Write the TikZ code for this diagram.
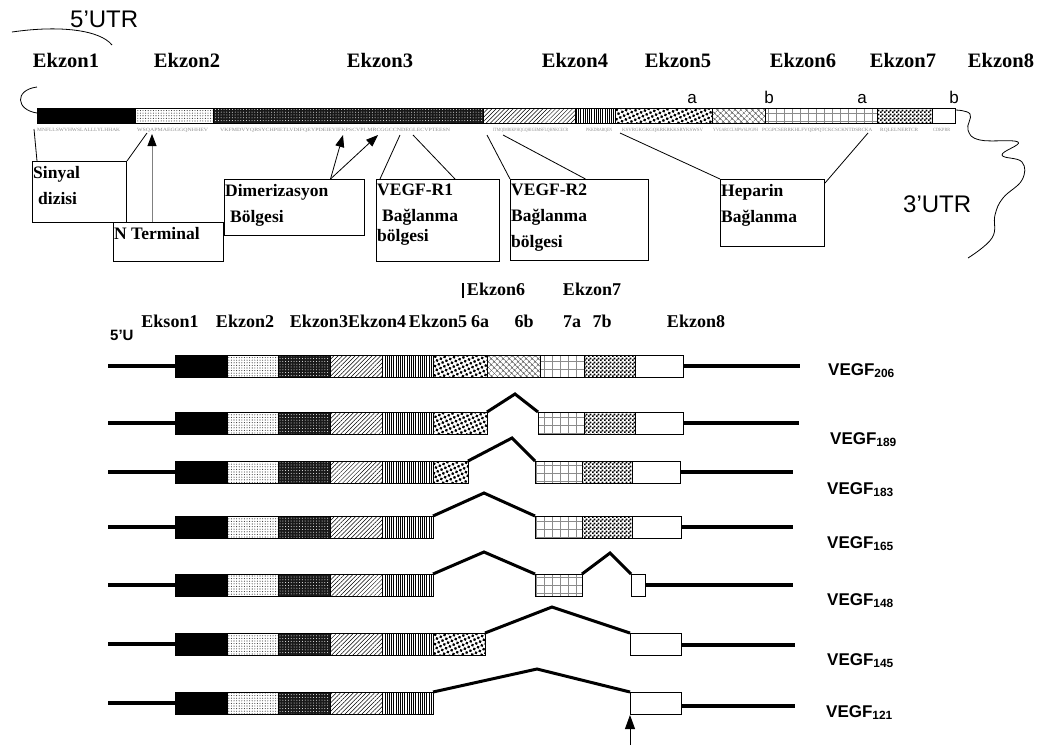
\documentclass[tikz,border=0pt]{standalone}
\usepackage{fontspec}
\setmainfont{Liberation Serif}
\setsansfont{Liberation Sans}
\usepackage{tikz}
\usetikzlibrary{arrows.meta,positioning,patterns,patterns.meta}

\newcommand{\seqtext}[2]{\resizebox{#1pt}{3.2pt}{#2}}

% small black and white squares for exon 7b
\pgfdeclarepatternformonly{finechecker}{\pgfpointorigin}{\pgfqpoint{4pt}{4pt}}{\pgfqpoint{4pt}{4pt}}{%
  \pgfpathrectangle{\pgfpointorigin}{\pgfqpoint{2pt}{2pt}}%
  \pgfpathrectangle{\pgfqpoint{2pt}{2pt}}{\pgfqpoint{2pt}{2pt}}%
  \pgfusepath{fill}}

\tikzset{
  exon/.style={draw=black, line width=0.6pt},
  ex1/.style={exon, fill=black},
  ex2/.style={exon, pattern={Dots[radius=0.55pt, distance=2.6pt]}, pattern color=black!80},
  ex3/.style={exon, preaction={fill=black!90}, pattern={Dots[radius=0.5pt, distance=2.8pt]}, pattern color=white},
  ex4/.style={exon, pattern={Lines[angle=45, distance=3pt, line width=0.5pt]}},
  ex5/.style={exon, pattern={Lines[angle=90, distance=2.2pt, line width=0.7pt]}},
  ex6a/.style={exon, pattern={Dots[radius=1.6pt, distance=4.2pt, angle=25]}},
  ex6b/.style={exon, pattern={Hatch[angle=45, distance=4pt, line width=0.6pt]}, pattern color=black!65},
  ex7a/.style={exon, pattern={Hatch[angle=0, distance=8pt, line width=0.35pt]}, pattern color=black!45},
  ex7b/.style={exon, pattern=finechecker},
  ex8/.style={exon, fill=white},
  utr/.style={line width=3.5pt},
  splice/.style={line width=3pt, line join=miter}
}

\begin{document}
\begin{tikzpicture}[x=1pt, y=-1pt,
  toplab/.style={font=\bfseries\fontsize{20.5}{24}\selectfont, anchor=base, inner sep=0pt},
  botlab/.style={font=\bfseries\fontsize{18}{21}\selectfont, anchor=base, inner sep=0pt},
  sublab/.style={font=\sffamily\fontsize{17}{20}\selectfont, anchor=base, inner sep=0pt},
  utrlab/.style={font=\sffamily\fontsize{24}{28}\selectfont, anchor=base west, inner sep=0pt},
  vegf/.style={font=\sffamily\bfseries\fontsize{17}{20}\selectfont, anchor=base west, inner sep=0pt},
  callbox/.style={draw, line width=1pt, anchor=north west, inner sep=0pt},
  calltext/.style={font=\bfseries\fontsize{17.5}{26}\selectfont, align=left, inner sep=0pt},
  seq/.style={text=black!45, anchor=base west, inner sep=0pt},
  pointer/.style={line width=0.8pt}]

  \useasboundingbox (0,0) rectangle (1055,745);

  % ---- top: the protein with its exons ----
  \node[utrlab] (utr5) at (70,27) {5'UTR};
  \draw[line width=0.8pt] (12,32) .. controls (60,25) and (100,30) .. (112,45);

  \node[toplab] (k1) at (66,67)  {Ekzon1};
  \node[toplab] (k2) at (187,67) {Ekzon2};
  \node[toplab] (k3) at (380,67) {Ekzon3};
  \node[toplab] (k4) at (575,67) {Ekzon4};
  \node[toplab] (k5) at (678,67) {Ekzon5};
  \node[toplab] (k6) at (803,67) {Ekzon6};
  \node[toplab] (k7) at (903,67) {Ekzon7};
  \node[toplab] (k8) at (1001,67) {Ekzon8};

  \node[sublab] (a6) at (692,103) {a};
  \node[sublab] (b6) at (769,103) {b};
  \node[sublab] (a7) at (862,103) {a};
  \node[sublab] (b7) at (954,103) {b};

  % the bar
  \path[ex1]  (37,108)  rectangle (135,123);
  \path[ex2]  (135,108) rectangle (213,123);
  \path[ex3]  (213,108) rectangle (483,123);
  \path[ex4]  (483,108) rectangle (575,123);
  \path[ex5]  (575,108) rectangle (615,123);
  \path[ex6a] (615,108) rectangle (712,123);
  \path[ex6b] (712,108) rectangle (765,123);
  \path[ex7a] (765,108) rectangle (877,123);
  \path[ex7b] (877,108) rectangle (932,123);
  \path[ex8]  (932,108) rectangle (955,123);
  \draw[line width=0.6pt] (37,108) rectangle (955,123);

  % loose ends of the mRNA
  \draw[line width=0.8pt] (37,87) .. controls (14,90) and (16,110) .. (37,113);
  \draw[line width=0.8pt] plot[smooth, tension=0.7] coordinates {(955,110) (970,114) (968,130) (980,140) (1018,142) (1002,155) (1022,162) (1022,180) (1003,198) (995,215) (992,238) (968,258)};
  \node[utrlab] (utr3) at (903,212) {3'UTR};

  % sequence under the bar
  \node[seq] (sq1)  at (37,131)  {\seqtext{83}{MNFLLSWVHWSLALLLYLHHAK}};
  \node[seq] (sq2)  at (137,131) {\seqtext{71}{WSQAPMAEGGGQNHHEV}};
  \node[seq] (sq3)  at (220,131) {\seqtext{230}{VKFMDVYQRSYCHPIETLVDIFQEYPDEIEYIFKPSCVPLMRCGGCCNDEGLECVPTEESN}};
  \node[seq] (sq4)  at (493,131) {\seqtext{75}{ITMQIMRIKPHQGQHIGEMSFLQHNKCECR}};
  \node[seq] (sq5)  at (586,131) {\seqtext{26}{PKKDRARQEN}};
  \node[seq] (sq6a) at (622,131) {\seqtext{81}{KSVRGKGKGQKRKRKKSRYKSWSV}};
  \node[seq] (sq6b) at (713,131) {\seqtext{45}{YVGARCCLMPWSLPGPH}};
  \node[seq] (sq7a) at (762,131) {\seqtext{110}{PCGPCSERRKHLFVQDPQTCKCSCKNTDSRCKA}};
  \node[seq] (sq7b) at (880,131) {\seqtext{38}{RQLELNERTCR}};
  \node[seq] (sq8)  at (933,131) {\seqtext{17}{CDKPRR}};

  % callout boxes
  \node[callbox, minimum width=94,  minimum height=61] (sinyal) at (32,161) {};
  \node[calltext, below right=5pt and 1pt of sinyal.north west] (sinyaltxt) {Sinyal\\\hspace*{5pt}dizisi};
  \node[callbox, minimum width=110, minimum height=39] (nterm) at (113,222) {};
  \node[calltext, below right=5pt and 1pt of nterm.north west] (ntermtxt) {N Terminal};
  \node[callbox, minimum width=140, minimum height=56] (dimer) at (224,179) {};
  \node[calltext, below right=5pt and 1pt of dimer.north west] (dimertxt) {Dimerizasyon\\\hspace*{5pt}Bölgesi};
  \node[callbox, minimum width=123, minimum height=82] (vr1) at (376,179) {};
  \node[calltext, below right=5pt and 1pt of vr1.north west] (vr1txt) {VEGF-R1\\\hspace*{5pt}Bağlanma\\[-6pt]bölgesi};
  \node[callbox, minimum width=138, minimum height=81] (vr2) at (510,179) {};
  \node[calltext, below right=5pt and 1pt of vr2.north west] (vr2txt) {VEGF-R2\\Bağlanma\\bölgesi};
  \node[callbox, minimum width=104, minimum height=67] (hep) at (720,179) {};
  \node[calltext, below right=5pt and 1pt of hep.north west] (heptxt) {Heparin\\Bağlanma};

  % where the callouts point
  \coordinate (sig1) at (34,129);
  \coordinate (sig2) at (147,133);
  \coordinate (nt)   at (152,134);
  \coordinate (dm1)  at (343,135);
  \coordinate (dm2)  at (378,135);
  \coordinate (ra1)  at (400,135);
  \coordinate (ra2)  at (413,135);
  \coordinate (rb1)  at (487,135);
  \coordinate (rb2)  at (503,135);
  \coordinate (hp1)  at (620,133);
  \coordinate (hp2)  at (868,133);

  \draw[pointer] ([xshift=5pt]sinyal.north west) -- (sig1);
  \draw[pointer] (sinyal.north east) -- (sig2);
  \draw[pointer, gray, -{Triangle[width=9pt, length=12pt, black]}] (nterm.north -| nt) -- (nt);
  \draw[pointer, -{Triangle[width=9pt, length=12pt]}] ([xshift=36pt]dimer.north) -- (dm1);
  \draw[pointer, -{Triangle[width=9pt, length=12pt]}] ([xshift=36pt]dimer.north) -- (dm2);
  \draw[pointer] ([xshift=4pt]vr1.north west) -- (ra1);
  \draw[pointer] ([xshift=17pt]vr1.north) -- (ra2);
  \draw[pointer] (vr2.north west) -- (rb1);
  \draw[pointer] ([xshift=6pt]vr2.north) -- (rb2);
  \draw[pointer] (hep.north west) -- (hp1);
  \draw[pointer] ([yshift=-4pt]hep.north east) -- (hp2);

  % ---- bottom: the splice variants ----
  \draw[line width=1.5pt] (463,283) -- (463,298);
  \node[botlab] (e6) at (496,295) {Ekzon6};
  \node[botlab] (e7) at (592,295) {Ekzon7};

  \node[botlab] (s1)  at (170,327) {Ekson1};
  \node[botlab] (s2)  at (245,327) {Ekzon2};
  \node[botlab] (s34) at (348,327) {Ekzon3Ekzon4};
  \node[botlab] (s5)  at (438,327) {Ekzon5};
  \node[botlab] (s6a) at (480,327) {6a};
  \node[botlab] (s6b) at (524,327) {6b};
  \node[botlab] (s7a) at (572,327) {7a};
  \node[botlab] (s7b) at (602,327) {7b};
  \node[botlab] (s8)  at (696,327) {Ekzon8};
  \node[font=\sffamily\bfseries\fontsize{15}{18}\selectfont, anchor=base west, inner sep=0pt] (utr5b) at (110,340) {5'U};

  % exons 1 to 5, the same in every row
  \foreach \t in {355,412,461,516,574,633,692} {
    \draw[utr] (108,\t+11) -- (175,\t+11);
    \path[ex1] (175,\t) rectangle (227,\t+22);
    \path[ex2] (227,\t) rectangle (278,\t+22);
    \path[ex3] (278,\t) rectangle (330,\t+22);
    \path[ex4] (330,\t) rectangle (382,\t+22);
    \path[ex5] (382,\t) rectangle (433,\t+22);
  }

  % VEGF206
  \path[ex6a] (433,355) rectangle (487,377);
  \path[ex6b] (487,355) rectangle (540,377);
  \path[ex7a] (540,355) rectangle (584,377);
  \path[ex7b] (584,355) rectangle (635,377);
  \path[ex8]  (635,355) rectangle (683,377);
  \draw[utr] (683,366) -- (800,366);
  \node[vegf] (v206) at (828,375) {VEGF\textsubscript{206}};

  % VEGF189
  \path[ex6a] (433,412) rectangle (487,434);
  \draw[splice] (487,412) -- (515,394) -- (538,412);
  \path[ex7a] (538,412) rectangle (584,434);
  \path[ex7b] (584,412) rectangle (635,434);
  \path[ex8]  (635,412) rectangle (683,434);
  \draw[utr] (683,423) -- (799,423);
  \node[vegf] (v189) at (830,444) {VEGF\textsubscript{189}};

  % VEGF183
  \path[ex6a] (433,461) rectangle (468,483);
  \draw[splice] (468,461) -- (512,438) -- (535,461);
  \path[ex7a] (535,461) rectangle (582,483);
  \path[ex7b] (582,461) rectangle (632,483);
  \path[ex8]  (632,461) rectangle (680,483);
  \draw[utr] (680,472) -- (793,472);
  \node[vegf] (v183) at (827,494) {VEGF\textsubscript{183}};

  % VEGF165
  \draw[splice] (433,516) -- (484,493) -- (535,516);
  \path[ex7a] (535,516) rectangle (582,538);
  \path[ex7b] (582,516) rectangle (632,538);
  \path[ex8]  (632,516) rectangle (681,538);
  \draw[utr] (681,527) -- (793,527);
  \node[vegf] (v165) at (827,548) {VEGF\textsubscript{165}};

  % VEGF148
  \draw[splice] (433,574) -- (484,552) -- (535,574);
  \path[ex7a] (535,574) rectangle (582,596);
  \draw[splice] (582,574) -- (610,553) -- (631,574);
  \path[ex8]  (631,574) rectangle (645,596);
  \draw[utr] (645,585) -- (793,585);
  \node[vegf] (v148) at (827,605) {VEGF\textsubscript{148}};

  % VEGF145
  \path[ex6a] (433,633) rectangle (485,655);
  \draw[splice] (485,633) -- (552,607) -- (630,633);
  \path[ex8]  (630,633) rectangle (681,655);
  \draw[utr] (681,645) -- (795,645);
  \node[vegf] (v145) at (827,665) {VEGF\textsubscript{145}};

  % VEGF121
  \draw[splice] (433,692) -- (537,669) -- (630,692);
  \path[ex8]  (630,692) rectangle (681,714);
  \draw[utr] (681,706) -- (795,706);
  \node[vegf] (v121) at (826,717) {VEGF\textsubscript{121}};

  \coordinate (arrfoot) at (630,745);
  \coordinate (arrtip)  at (630,715);
  \draw[pointer, -{Triangle[width=10pt, length=14pt]}] (arrfoot) -- (arrtip);

\end{tikzpicture}
\end{document}
